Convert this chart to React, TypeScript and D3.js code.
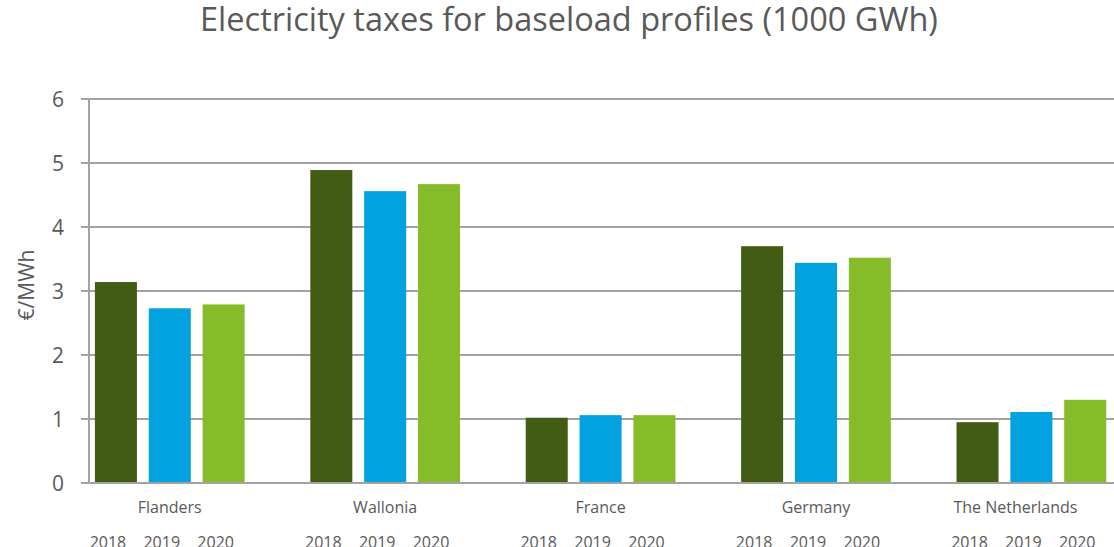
import React, { useRef, useEffect } from "react";
import * as d3 from "d3";

const countries = ["Flanders", "Wallonia", "France", "Germany", "The Netherlands"];
const years = ["2018", "2019", "2020"];
const values2018 = [3.14, 4.89, 1.02, 3.70, 0.95];
const values2019 = [2.73, 4.56, 1.06, 3.44, 1.11];
const values2020 = [2.79, 4.67, 1.06, 3.52, 1.30];
const yTicks = [0, 1, 2, 3, 4, 5, 6];
const colors = ["#435c14", "#02a1df", "#86bc29"];

const W = 1114;
const H = 547;
const FONT = "'Open Sans', 'Segoe UI', sans-serif";
const TEXT = "#595959";

const App: React.FC = () => {
    const ref = useRef<SVGSVGElement | null>(null);

    useEffect(() => {
        document.body.style.margin = "0";
        document.body.style.overflow = "hidden";
        if (!ref.current) return;

        const svg = d3.select(ref.current);
        svg.selectAll("*").remove();

        const margin = { top: 99, left: 89, bottom: 64 };
        // the plot runs past the right edge of the picture
        const plotRight = 1166;

        const series = [values2018, values2019, values2020];

        const x0 = d3.scaleBand<string>().domain(countries).range([margin.left, plotRight]);
        // three years plus one empty slot per country
        const x1 = d3
            .scaleBand<string>()
            .domain([...years, "gap"])
            .range([0, x0.bandwidth()]);
        const barW = x1.bandwidth() * 0.78;
        const barOff = (x1.bandwidth() - barW) / 2;

        const y = d3
            .scaleLinear()
            .domain([0, 6])
            .range([H - margin.bottom, margin.top]);

        svg
            .append("text")
            .attr("x", 569)
            .attr("y", 31)
            .attr("text-anchor", "middle")
            .attr("font-family", FONT)
            .attr("font-size", 32.5)
            .attr("fill", TEXT)
            .text("Electricity taxes for baseload profiles (1000 GWh)");

        // gridlines
        svg
            .append("g")
            .selectAll("line")
            .data(yTicks)
            .enter()
            .append("line")
            .attr("x1", margin.left - 8)
            .attr("x2", W)
            .attr("y1", d => y(d))
            .attr("y2", d => y(d))
            .attr("stroke", "#a3a3a3")
            .attr("stroke-width", 2);

        svg
            .append("line")
            .attr("x1", margin.left)
            .attr("x2", margin.left)
            .attr("y1", y(6))
            .attr("y2", y(0))
            .attr("stroke", "#a3a3a3")
            .attr("stroke-width", 2);

        svg
            .append("g")
            .selectAll("text")
            .data(yTicks)
            .enter()
            .append("text")
            .attr("x", 64)
            .attr("y", d => y(d) + 7.5)
            .attr("text-anchor", "end")
            .attr("font-family", FONT)
            .attr("font-size", 21)
            .attr("fill", TEXT)
            .text(d => d);

        svg
            .append("text")
            .attr("transform", `translate(34,285) rotate(-90)`)
            .attr("text-anchor", "middle")
            .attr("font-family", FONT)
            .attr("font-size", 21)
            .attr("fill", TEXT)
            .text("€/MWh");

        // bars
        series.forEach((vals, si) => {
            svg
                .append("g")
                .attr("fill", colors[si])
                .selectAll("rect")
                .data(vals)
                .enter()
                .append("rect")
                .attr("x", (_, i) => x0(countries[i])! + x1(years[si])! + barOff)
                .attr("y", d => y(d))
                .attr("width", barW)
                .attr("height", d => y(0) - y(d));
        });

        // redraw baseline on top of bars
        svg
            .append("line")
            .attr("x1", margin.left - 8)
            .attr("x2", W)
            .attr("y1", y(0))
            .attr("y2", y(0))
            .attr("stroke", "#a3a3a3")
            .attr("stroke-width", 2);

        // country labels
        svg
            .append("g")
            .selectAll("text")
            .data(countries)
            .enter()
            .append("text")
            .attr("x", d => x0(d)! + x1("2019")! + x1.bandwidth() / 2 - (d === "The Netherlands" ? 16 : 0))
            .attr("y", 513)
            .attr("text-anchor", "middle")
            .attr("font-family", FONT)
            .attr("font-size", 16)
            .attr("fill", TEXT)
            .text(d => d);

        // year labels (cut off by the bottom edge, as in the source)
        const yearG = svg.append("g");
        countries.forEach(c => {
            years.forEach(yr => {
                yearG
                    .append("text")
                    .attr("x", x0(c)! + x1(yr)! + x1.bandwidth() / 2 - 8)
                    .attr("y", 548)
                    .attr("text-anchor", "middle")
                    .attr("font-family", FONT)
                    .attr("font-size", 16)
                    .attr("fill", TEXT)
                    .text(yr);
            });
        });
    }, []);

    return <svg ref={ref} width={W} height={H} style={{ display: "block", background: "#fff" }} />;
};

export default App;
